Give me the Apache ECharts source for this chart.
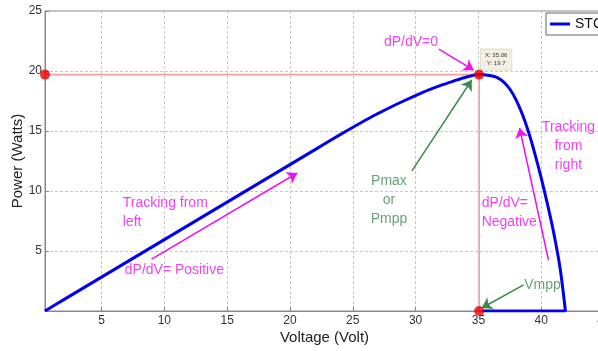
<!DOCTYPE html>
<html><head><meta charset="utf-8">
<script src="https://cdn.jsdelivr.net/npm/echarts@6/dist/echarts.min.js"></script>
<style>html,body{margin:0;padding:0;background:#fff}#c{width:598px;height:351px}</style>
</head><body><div id="c"></div>
<script>
// ---- data ----
const seriesName = 'STC';
const vVolt = [0.5, 2, 4, 6, 8, 10, 12, 14, 16, 18, 20, 22, 24, 26, 27, 28, 29, 30, 31, 32, 33, 34, 35.06, 36, 36.5, 37, 37.5, 38, 38.5, 39, 39.5, 40, 40.5, 41, 41.5, 41.93, 35.3];
const pWatt = [0, 0.95, 2.2, 3.45, 4.7, 5.95, 7.2, 8.45, 9.7, 10.95, 12.2, 13.45, 14.7, 15.9, 16.45, 16.98, 17.48, 17.95, 18.4, 18.8, 19.15, 19.48, 19.7, 19.6, 19.45, 19.1, 18.5, 17.6, 16.4, 14.9, 13.1, 11.1, 8.9, 6.5, 3.6, 0, 0];
const mppV = 35.06;
const mppP = 19.7;
const xTickValues = [5, 10, 15, 20, 25, 30, 35, 40, 45];
const yTickValues = [5, 10, 15, 20, 25];
const guideV = [0.5, 35.06, 35.06];
const guideP = [19.7, 19.7, 0];

// annotation texts (data coordinates)
const noteTexts = ['dP/dV=0', 'Tracking from\nleft', 'dP/dV= Positive', 'Pmax\nor\nPmpp', 'dP/dV=\nNegative', 'Tracking\nfrom\nright', 'Vmpp'];
const noteV = [29.63, 6.69, 6.85, 27.88, 35.26, 42.17, 40.1];
const noteP = [22.4, 8.2, 3.42, 9.25, 8.2, 13.75, 2.17];
const noteKind = ['m', 'm', 'm', 'g', 'm', 'm', 'g'];
const noteAlign = ['center', 'left', 'left', 'center', 'left', 'center', 'center'];
// arrows: from -> to
const arrowFromV = [31.85, 29.71, 8.99, 40.58, 38.6];
const arrowFromP = [21.83, 11.67, 4.33, 4.25, 2.17];
const arrowToV = [34.63, 34.47, 20.58, 38.28, 35.27];
const arrowToP = [20.08, 19.25, 11.5, 15.25, 0.25];
const arrowKind = ['m', 'g', 'm', 'm', 'g'];

// ---- styles ----
const FONT = '"Liberation Sans", Arial, Helvetica, sans-serif';
const MAGENTA = '#f010f0';
const GREEN_TXT = '#3f8a5a';
const GREEN_ARR = '#3a8a48';
const colorOf = k => k === 'm' ? MAGENTA : GREEN_TXT;

const curve = vVolt.map((v, i) => [v, pWatt[i]]);
const guide = guideV.map((v, i) => [v, guideP[i]]);

const notes = noteTexts.map((t, i) => ({
  value: [noteV[i], noteP[i]],
  label: {
    show: true, position: 'inside', formatter: t,
    color: colorOf(noteKind[i]), fontSize: 14, fontFamily: FONT,
    align: noteAlign[i], verticalAlign: 'middle', lineHeight: 19
  }
}));

const arrows = arrowFromV.map((v, i) => {
  const c = arrowKind[i] === 'm' ? MAGENTA : GREEN_ARR;
  return [
    { coord: [v, arrowFromP[i]], lineStyle: { color: c, width: 1.5, type: 'solid' }, itemStyle: { color: c } },
    { coord: [arrowToV[i], arrowToP[i]], itemStyle: { color: c } }
  ];
});

const chart = echarts.init(document.getElementById('c'), null, { renderer: 'canvas' });
const axisCommon = {
  axisLine: { show: true, lineStyle: { color: '#888', width: 1 } },
  axisTick: { show: true, inside: true, length: 4, lineStyle: { color: '#888' } },
  splitLine: { show: true, lineStyle: { color: '#c8c8c8', type: [3, 2], width: 1 } }
};
chart.setOption({
  animation: false,
  backgroundColor: '#fff',
  textStyle: { fontFamily: FONT },
  grid: { left: 45, top: 11, right: -6, bottom: 40, show: true, borderColor: '#888', borderWidth: 1,
    containLabel: false, outerBoundsMode: 'none' },
  legend: {
    data: [seriesName], left: 546, top: 13, icon: 'rect', itemWidth: 20, itemHeight: 3, itemGap: 5,
    padding: [4, 40, 4, 4], borderColor: '#666', borderWidth: 1, backgroundColor: '#fff',
    textStyle: { fontSize: 14, color: '#111', fontFamily: FONT }
  },
  xAxis: [{
    type: 'value', min: 0.5, max: 45, splitNumber: 9,
    name: 'Voltage (Volt)', nameLocation: 'middle', nameGap: 19, nameMoveOverlap: false,
    nameTextStyle: { fontSize: 15, color: '#222', fontFamily: FONT },
    axisLabel: { showMinLabel: false, margin: 4, fontSize: 12, color: '#333', fontFamily: FONT,
      formatter: v => xTickValues.includes(Math.round(v * 100) / 100) ? String(v) : '' },
    ...axisCommon
  }],
  yAxis: [{
    type: 'value', min: 0, max: 25, interval: 5,
    name: 'Power (Watts)', nameLocation: 'middle', nameGap: 20, nameMoveOverlap: false,
    nameTextStyle: { fontSize: 15, color: '#222', fontFamily: FONT },
    axisLabel: { showMinLabel: false, margin: 3, fontSize: 12, color: '#333', fontFamily: FONT,
      formatter: v => yTickValues.includes(v) ? String(v) : '' },
    ...axisCommon
  }],
  series: [
    {
      name: 'guide', type: 'line', data: guide, symbol: 'none', silent: true, z: 1,
      lineStyle: { color: '#f4a0a0', width: 1.6 }
    },
    {
      name: seriesName, type: 'line', data: curve, symbol: 'none', smooth: 0.3, z: 3,
      lineStyle: { color: '#0000ee', width: 3 }, itemStyle: { color: '#0000ee' }
    },
    {
      name: 'dots', type: 'scatter', data: guide, symbolSize: 10, clip: false, z: 5,
      itemStyle: { color: '#e80000' },
      markPoint: {
        symbol: 'rect', symbolSize: 1, itemStyle: { color: 'rgba(0,0,0,0)' }, silent: true,
        data: [{ coord: [mppV, mppP], label: {
          show: true, position: 'inside', offset: [17, -15],
          formatter: 'X: ' + mppV + '\nY: ' + mppP,
          backgroundColor: '#f2f0e2', borderColor: '#e0ddd0', borderWidth: 1,
          padding: [2, 4], fontSize: 6, lineHeight: 8, color: '#333', fontFamily: FONT, align: 'center'
        } }]
      }
    },
    {
      name: 'notes', type: 'scatter', data: notes, symbolSize: 0, silent: true, z: 6, clip: false,
      markLine: {
        silent: true, symbol: ['none', 'arrow'], symbolSize: 10, label: { show: false },
        data: arrows
      }
    }
  ]
});
</script></body></html>
